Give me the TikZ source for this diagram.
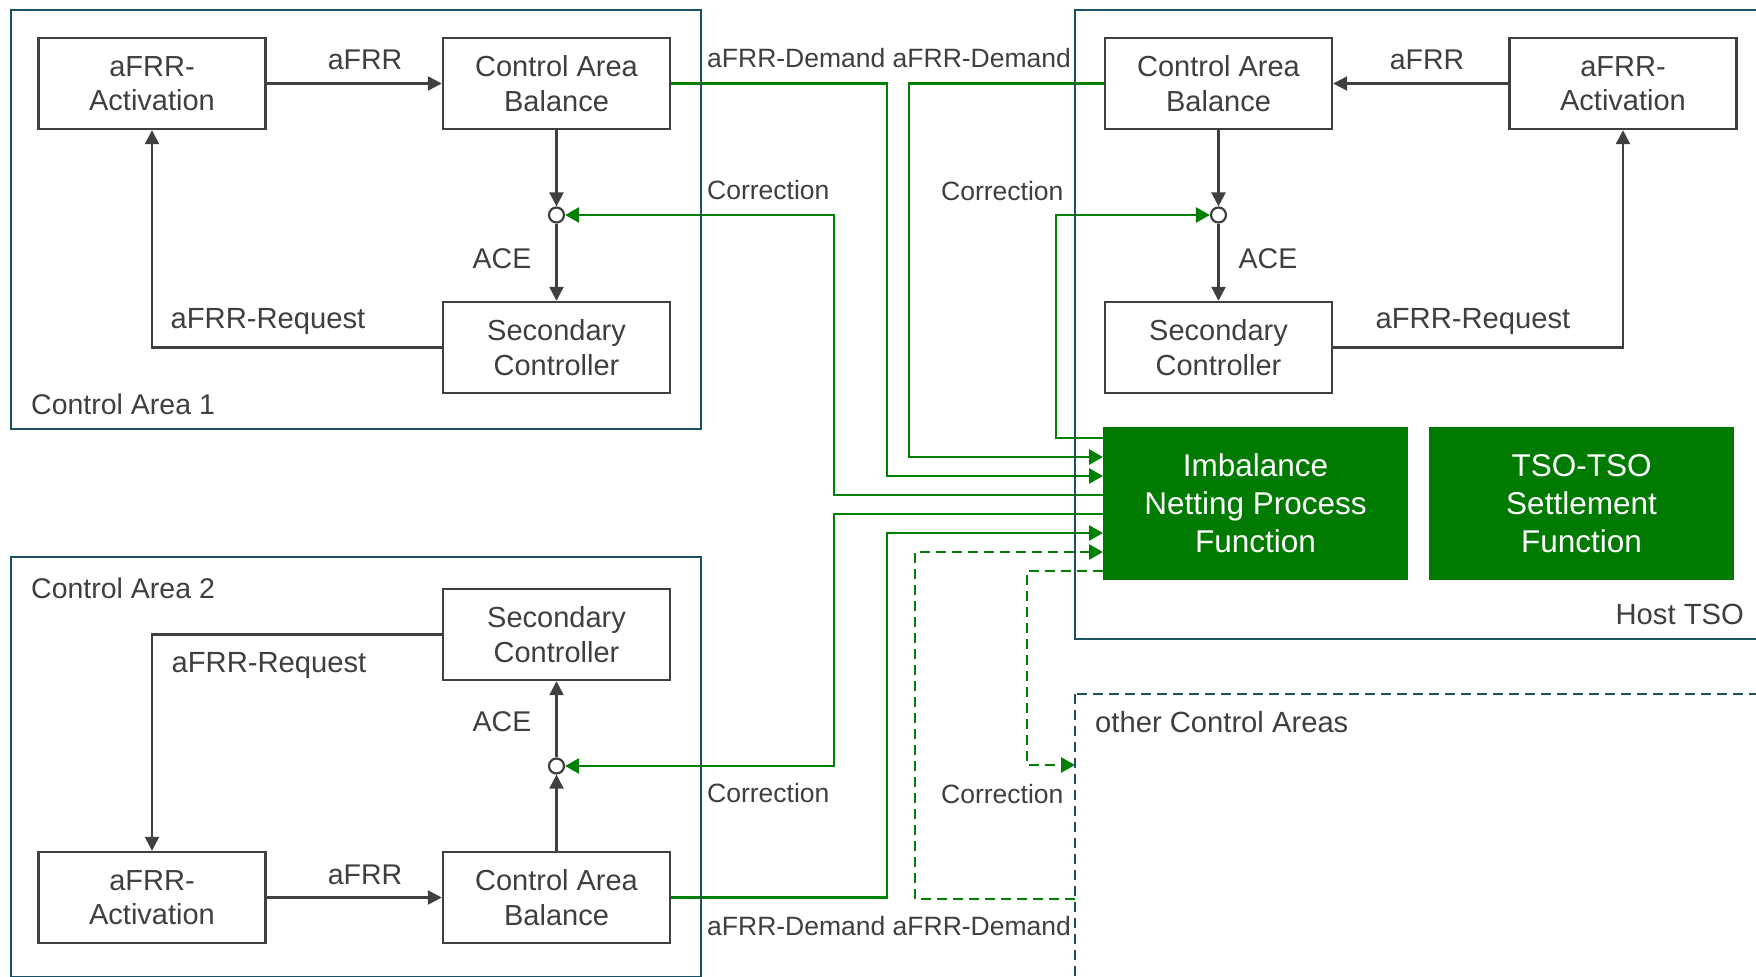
\documentclass[tikz,border=0pt]{standalone}
\usepackage{fontspec}
\setmainfont{Liberation Sans}
\usetikzlibrary{arrows.meta,calc}
\definecolor{boxgray}{HTML}{404040}
\definecolor{frameteal}{HTML}{1B5162}
\definecolor{linegreen}{HTML}{008000}
\definecolor{fillgreen}{HTML}{007A00}
\definecolor{txtgray}{HTML}{3F3F3F}
\begin{document}
\begin{tikzpicture}[x=1pt,y=-1pt,
  blk/.style={draw=boxgray, line width=2.4pt, fill=white, minimum width=227pt, minimum height=91pt, inner sep=0pt, align=center, text=txtgray, font=\fontsize{29}{34.6}\selectfont},
  gblk/.style={fill=fillgreen, minimum width=305pt, minimum height=153pt, inner sep=0pt, align=center, text=white, font=\fontsize{31.5}{38.2}\selectfont},
  areabox/.style={draw=frameteal, line width=2.6pt},
  jn/.style={circle, draw=boxgray, line width=2.2pt, fill=white, minimum size=15pt, inner sep=0pt},
  gc/.style={draw=boxgray, line width=2.4pt, -{Triangle[length=14pt,width=14pt]}},
  grc/.style={draw=linegreen, line width=2.8pt, -{Triangle[length=14pt,width=15pt]}},
  dsh/.style={dash pattern=on 10pt off 6pt},
  lbl/.style={text=txtgray, inner sep=0pt, font=\fontsize{28.5}{34}\selectfont},
  rlbl/.style={text=txtgray, inner sep=0pt, font=\fontsize{29.2}{35}\selectfont},
  slbl/.style={text=txtgray, inner sep=0pt, font=\fontsize{26.5}{32}\selectfont},
]
\useasboundingbox (0,0) rectangle (1756,977);
\fill[white] (0,0) rectangle (1756,977);

% column / row helper coordinates
\coordinate (xa) at (834,0);
\coordinate (xb) at (887,0);
\coordinate (xc) at (909,0);
\coordinate (xd) at (915,0);
\coordinate (xe) at (1027,0);
\coordinate (xf) at (1056,0);
\coordinate (in1) at (1103,438);
\coordinate (in2) at (1103,457);
\coordinate (in3) at (1103,476);
\coordinate (in4) at (1103,495);
\coordinate (in5) at (1103,514);
\coordinate (in6) at (1103,533);
\coordinate (in7) at (1103,552);
\coordinate (in8) at (1103,571);
\coordinate (od) at (1075,899);
\coordinate (oc) at (1075,765);

% Control Area 1
\node[blk] (act1) at (152,83.5) {aFRR-\\Activation};
\node[blk] (cab1) at (556.5,83.5) {Control Area\\Balance};
\node[jn] (j1) at (556.5,215) {};
\node[blk] (sc1) at (556.5,347.5) {Secondary\\Controller};

% Control Area 2
\node[blk] (sc2) at (556.5,634.5) {Secondary\\Controller};
\node[jn] (j2) at (556.5,766) {};
\node[blk] (cab2) at (556.5,897.5) {Control Area\\Balance};
\node[blk] (act2) at (152,897.5) {aFRR-\\Activation};

% Host TSO
\node[blk] (hcab) at (1218.5,83.5) {Control Area\\Balance};
\node[blk] (hact) at (1623,83.5) {aFRR-\\Activation};
\node[jn] (hj) at (1218.5,215) {};
\node[blk] (hsc) at (1218.5,347.5) {Secondary\\Controller};
\node[gblk] (inpf) at (1255.5,503.5) {Imbalance\\Netting Process\\Function};
\node[gblk] (tso) at (1581.5,503.5) {TSO-TSO\\Settlement\\Function};

% gray connectors
\draw[gc] (act1.east) -- (cab1.west);
\draw[gc] (cab1.south) -- (j1.north);
\draw[gc] (j1.south) -- (sc1.north);
\draw[gc] (sc1.west) -| (act1.south);

\draw[gc] (act2.east) -- (cab2.west);
\draw[gc] (cab2.north) -- (j2.south);
\draw[gc] (j2.north) -- (sc2.south);
\draw[gc] (sc2.west) -| (act2.north);

\draw[gc] (hact.west) -- (hcab.east);
\draw[gc] (hcab.south) -- (hj.north);
\draw[gc] (hj.south) -- (hsc.north);
\draw[gc] (hsc.east) -| (hact.south);

% green connectors
\draw[grc] (hcab.west) -| (xc |- in2) -- (in2);
\draw[grc] (cab1.east) -| (xb |- in3) -- (in3);
\draw[grc] (in1) -| (xf |- hj) -- (hj.west);
\draw[grc] (in4) -| (xa |- j1) -- (j1.east);
\draw[grc] (in5) -| (xa |- j2) -- (j2.east);
\draw[grc] (cab2.east) -| (xb |- in6) -- (in6);
\draw[grc,dsh] (od) -| (xd |- in7) -- (in7);
\draw[grc,dsh] (in8) -| (xe |- oc) -- (oc);

% container frames (drawn over the connectors)
\draw[areabox] (11,10) rectangle (701,429);
\draw[areabox] (11,557) rectangle (701,977.5);
\draw[areabox] (1075,10) rectangle (1765,639);
\draw[areabox,dsh] (1075,694) rectangle (1765,978);

% labels
\node[lbl] (la1) at (365,60) {aFRR};
\node[lbl] (lace1) at (502,259) {ACE};
\node[rlbl] (lreq1) at (268,321) {aFRR-Request};
\node[lbl,anchor=west] (lca1) at (31,404) {Control Area 1};
\node[slbl,anchor=west] (ldem1) at (707,58) {aFRR-Demand aFRR-Demand};
\node[slbl,anchor=west] (lcor1) at (707,190) {Correction};
\node[slbl,anchor=west] (lcor2) at (941,191) {Correction};

\node[lbl] (lha) at (1427,60) {aFRR};
\node[lbl] (lhace) at (1268,259) {ACE};
\node[rlbl] (lhreq) at (1473,321) {aFRR-Request};
\node[rlbl,anchor=east] (lhost) at (1744,614) {Host TSO};

\node[lbl,anchor=west] (lca2) at (31,588) {Control Area 2};
\node[rlbl] (lreq2) at (269,665) {aFRR-Request};
\node[lbl] (lace2) at (502,722) {ACE};
\node[lbl] (la2) at (365,875) {aFRR};
\node[slbl,anchor=west] (lcor3) at (707,793) {Correction};
\node[slbl,anchor=west] (lcor4) at (941,794) {Correction};
\node[slbl,anchor=west] (ldem2) at (707,926) {aFRR-Demand aFRR-Demand};
\node[rlbl,anchor=west] (loth) at (1095,722) {other Control Areas};
\end{tikzpicture}
\end{document}
